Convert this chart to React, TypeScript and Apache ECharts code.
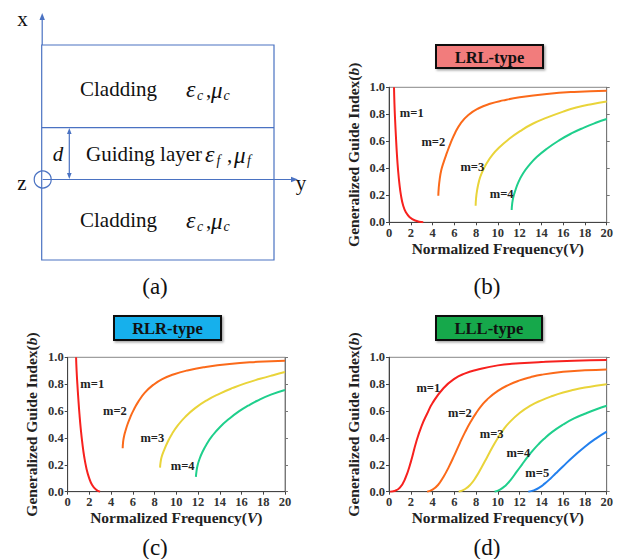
import React, { useEffect, useRef } from "react";
import * as echarts from "echarts";

const SERIF = "'Liberation Serif', 'Times New Roman', serif";

// ---- Tick labels ----
const xTicks = [0, 2, 4, 6, 8, 10, 12, 14, 16, 18, 20];
const yTicks = ["0.0", "0.2", "0.4", "0.6", "0.8", "1.0"];

// ---- Mode names / colors ----
const modeNames = ["m=1", "m=2", "m=3", "m=4", "m=5"];
const modeColors = ["#f7211e", "#fb6a1a", "#e9d43a", "#1fcf8c", "#2380ee"];

// ---- (b) LRL-type ----
const lrlV1 = [0.46, 0.5, 0.56, 0.64, 0.73, 0.83, 0.95, 1.1, 1.3, 1.55, 1.9, 2.4, 3.15];
const lrlB1 = [1.0, 0.88, 0.76, 0.63, 0.5, 0.39, 0.29, 0.2, 0.125, 0.075, 0.038, 0.013, 0];
const lrlV2 = [4.53, 4.57, 4.65, 4.8, 5.0, 5.3, 5.65, 6.06, 6.6, 7.29, 8.2, 9.28, 10.5, 12, 14.5, 17, 20];
const lrlB2 = [0.197, 0.255, 0.315, 0.385, 0.44, 0.51, 0.585, 0.66, 0.735, 0.795, 0.843, 0.878, 0.903, 0.926, 0.951, 0.966, 0.975];
const lrlV3 = [7.96, 8.0, 8.1, 8.27, 8.5, 8.97, 9.5, 10.2, 11, 12.04, 13.2, 14.5, 16, 17.2, 18.6, 20];
const lrlB3 = [0.123, 0.18, 0.24, 0.305, 0.36, 0.437, 0.5, 0.56, 0.615, 0.675, 0.73, 0.775, 0.82, 0.85, 0.875, 0.894];
const lrlV4 = [11.27, 11.32, 11.42, 11.58, 11.9, 12.34, 12.9, 13.57, 14.5, 15.7, 16.8, 17.86, 19, 20];
const lrlB4 = [0.091, 0.14, 0.185, 0.23, 0.3, 0.365, 0.425, 0.483, 0.545, 0.61, 0.66, 0.7, 0.737, 0.765];
const lrlLabelPos = [[2.09, 0.807], [4.07, 0.597], [7.65, 0.412], [10.35, 0.21]];

// ---- (c) RLR-type ----
const rlrV1 = [0.77, 0.82, 0.89, 0.98, 1.08, 1.2, 1.35, 1.52, 1.72, 1.96, 2.25, 2.6, 2.98];
const rlrB1 = [1.0, 0.9, 0.8, 0.69, 0.58, 0.47, 0.36, 0.26, 0.175, 0.105, 0.05, 0.016, 0];
const rlrV2 = [5.06, 5.1, 5.18, 5.3, 5.5, 5.74, 6.05, 6.5, 7.1, 7.88, 8.7, 9.72, 11, 12.5, 14.9, 17.5, 20];
const rlrB2 = [0.323, 0.37, 0.41, 0.448, 0.5, 0.55, 0.605, 0.67, 0.737, 0.795, 0.838, 0.872, 0.902, 0.926, 0.951, 0.966, 0.975];
const rlrV3 = [8.5, 8.55, 8.65, 8.9, 9.2, 9.6, 10.15, 10.8, 11.7, 12.8, 14, 15.2, 16.4, 17.7, 18.9, 20];
const rlrB3 = [0.179, 0.22, 0.26, 0.315, 0.37, 0.43, 0.495, 0.555, 0.62, 0.68, 0.73, 0.772, 0.808, 0.84, 0.867, 0.89];
const rlrV4 = [11.8, 11.85, 11.95, 12.1, 12.4, 12.8, 13.3, 14, 14.9, 15.86, 16.6, 17.4, 18.7, 20];
const rlrB4 = [0.11, 0.15, 0.195, 0.236, 0.295, 0.355, 0.415, 0.48, 0.545, 0.603, 0.64, 0.675, 0.722, 0.757];
const rlrLabelPos = [[2.26, 0.8], [4.35, 0.6], [7.79, 0.397], [10.58, 0.193]];

// ---- (d) LLL-type ----
const lllV1 = [0.1, 0.5, 1, 1.5, 2, 2.5, 3, 3.5, 4, 5, 6, 7, 8, 10, 12, 14, 17, 20];
const lllB1 = [0, 0.005, 0.03, 0.1, 0.22, 0.37, 0.49, 0.58, 0.66, 0.77, 0.84, 0.88, 0.905, 0.94, 0.955, 0.965, 0.975, 0.98];
const lllV2 = [3.5, 4, 4.5, 5, 5.5, 6, 6.5, 7, 7.5, 8, 8.5, 9, 10, 11, 12, 13, 14, 16, 18, 20];
const lllB2 = [0, 0.015, 0.05, 0.11, 0.185, 0.27, 0.36, 0.445, 0.52, 0.585, 0.64, 0.685, 0.75, 0.795, 0.828, 0.852, 0.87, 0.892, 0.903, 0.91];
const lllV3 = [6.4, 7, 7.5, 8, 8.5, 9, 9.5, 10, 10.5, 11, 12, 13, 14, 15, 16, 17, 18, 19, 20];
const lllB3 = [0, 0.02, 0.055, 0.11, 0.18, 0.255, 0.33, 0.4, 0.46, 0.51, 0.585, 0.64, 0.68, 0.712, 0.738, 0.758, 0.775, 0.789, 0.8];
const lllV4 = [9.7, 10.2, 10.7, 11.2, 11.7, 12.2, 12.7, 13.2, 13.7, 14.2, 15, 16, 17, 18, 19, 20];
const lllB4 = [0, 0.015, 0.045, 0.09, 0.145, 0.2, 0.255, 0.305, 0.35, 0.39, 0.445, 0.5, 0.545, 0.58, 0.612, 0.64];
const lllV5 = [12.8, 13.3, 13.8, 14.3, 14.8, 15.3, 16, 17, 18, 19, 20];
const lllB5 = [0, 0.01, 0.03, 0.06, 0.095, 0.135, 0.19, 0.265, 0.335, 0.395, 0.447];
const lllLabelPos = [[3.61, 0.774], [6.52, 0.588], [9.43, 0.427], [11.88, 0.286], [13.62, 0.137]];

const panels = [
  {
    title: "LRL-type",
    fill: "#f27b7b",
    curves: [[lrlV1, lrlB1], [lrlV2, lrlB2], [lrlV3, lrlB3], [lrlV4, lrlB4]],
    labels: lrlLabelPos,
    grid: { left: 389, top: 87.3, width: 217.7, height: 135 },
    box: { x: 436, y: 45, w: 107, h: 23 },
    tag: "(b)",
    tagPos: [487, 286],
  },
  {
    title: "RLR-type",
    fill: "#17b0ec",
    curves: [[rlrV1, rlrB1], [rlrV2, rlrB2], [rlrV3, rlrB3], [rlrV4, rlrB4]],
    labels: rlrLabelPos,
    grid: { left: 67.7, top: 357.3, width: 217.3, height: 134.4 },
    box: { x: 114, y: 316, w: 107, h: 24 },
    tag: "(c)",
    tagPos: [155, 547],
  },
  {
    title: "LLL-type",
    fill: "#13a84c",
    curves: [[lllV1, lllB1], [lllV2, lllB2], [lllV3, lllB3], [lllV4, lllB4], [lllV5, lllB5]],
    labels: lllLabelPos,
    grid: { left: 389, top: 357.3, width: 217.7, height: 134.4 },
    box: { x: 436, y: 316, w: 106, h: 24 },
    tag: "(d)",
    tagPos: [487, 547],
  },
];

const zip = (xs: number[], ys: number[]) => xs.map((x, i) => [x, ys[i]]);

function txt(x: number, y: number, text: string, opts: any = {}) {
  return {
    type: "text",
    z: 10,
    style: {
      x,
      y,
      text,
      fill: opts.fill || "#111",
      fontSize: opts.size || 21,
      fontFamily: SERIF,
      fontStyle: opts.italic ? "italic" : "normal",
      fontWeight: opts.bold ? "bold" : "normal",
      align: opts.align || "left",
      textAlign: opts.align || "left",
      verticalAlign: "middle",
      textVerticalAlign: "middle",
    },
  };
}

function buildOption() {
  const BLUE = "#4a72c2";
  const line = (x1: number, y1: number, x2: number, y2: number) => ({
    type: "line",
    shape: { x1, y1, x2, y2 },
    style: { stroke: BLUE, lineWidth: 1.2 },
  });
  const poly = (pts: number[][]) => ({
    type: "polygon",
    shape: { points: pts },
    style: { fill: BLUE },
  });

  // eps / mu with subscripts; offsets: [sub1, comma, mu, sub2]
  const epsMu = (x0: number, y: number, sub: string, gaps: number[]) => [
    txt(x0, y, "ε", { italic: true, size: 24 }),
    txt(x0 + gaps[0], y + 6, sub, { italic: true, size: 14 }),
    txt(x0 + gaps[1], y + 1, ",", { size: 21 }),
    txt(x0 + gaps[2], y + 1, "μ", { italic: true, size: 23 }),
    txt(x0 + gaps[3], y + 6, sub, { italic: true, size: 14 }),
  ];

  const graphicA: any[] = [
    {
      type: "rect",
      shape: { x: 41.7, y: 45, width: 232.3, height: 215 },
      style: { fill: "none", stroke: BLUE, lineWidth: 1.2 },
    },
    line(41.7, 127.7, 274, 127.7),
    line(42.7, 179.5, 292, 179.5),
    poly([[298, 179.5], [291, 176.8], [291, 182.2]]),
    line(42.2, 45, 42.2, 19),
    poly([[42.2, 13], [39.5, 20], [44.9, 20]]),
    {
      type: "circle",
      shape: { cx: 42.7, cy: 179.5, r: 8.5 },
      style: { fill: "none", stroke: BLUE, lineWidth: 1.2 },
    },
    line(69.3, 132, 69.3, 175),
    poly([[69.3, 128], [67, 134], [71.6, 134]]),
    poly([[69.3, 179], [67, 173], [71.6, 173]]),
    txt(22.5, 19, "x", { align: "center" }),
    txt(22, 183, "z", { align: "center" }),
    txt(301, 183, "y", { align: "center" }),
    txt(58, 154, "d", { italic: true, align: "center" }),
    txt(80, 89, "Cladding"),
    ...epsMu(186, 89, "c", [11, 20, 25, 37.5]),
    txt(86, 154, "Guiding layer"),
    ...epsMu(205, 154, "f", [11.5, 22, 29, 42]),
    txt(80, 220, "Cladding"),
    ...epsMu(186, 220, "c", [11, 20, 25, 37.5]),
    txt(155, 286, "(a)", { align: "center", size: 23 }),
  ];

  const graphicTitles: any[] = [];
  panels.forEach((p) => {
    graphicTitles.push({
      type: "rect",
      shape: { x: p.box.x, y: p.box.y, width: p.box.w, height: p.box.h },
      style: {
        fill: p.fill,
        stroke: "#111",
        lineWidth: 2,
        shadowBlur: 2,
        shadowOffsetX: 1.5,
        shadowOffsetY: 1.5,
        shadowColor: "rgba(0,0,0,0.35)",
      },
    });
    graphicTitles.push(
      txt(p.box.x + p.box.w / 2, p.box.y + p.box.h / 2 + 0.5, p.title, { bold: true, size: 16.5, align: "center" })
    );
    graphicTitles.push(txt(p.tagPos[0], p.tagPos[1], p.tag, { align: "center", size: 23 }));
  });

  const grids = panels.map((p) => ({ ...p.grid, show: true, borderColor: "#888", borderWidth: 1 }));

  const nameRich = {
    a: { fontFamily: SERIF, fontWeight: "bold", fontSize: 15.5, color: "#222" },
    i: { fontFamily: SERIF, fontWeight: "bold", fontStyle: "italic", fontSize: 15.5, color: "#222" },
  };

  const xAxes = panels.map((_, i) => ({
    gridIndex: i,
    type: "value",
    min: 0,
    max: 20,
    interval: 2,
    name: "{a|Normalized Frequency(}{i|V}{a|)}",
    nameLocation: "middle",
    nameGap: 18,
    nameTextStyle: { rich: nameRich },
    axisLine: { show: true, onZero: false, lineStyle: { color: "#444", width: 1 } },
    axisTick: { show: true, inside: false, length: 3, lineStyle: { color: "#444" } },
    axisLabel: {
      margin: 4,
      fontFamily: SERIF,
      fontWeight: "bold",
      fontSize: 12.5,
      color: "#333",
      formatter: (v: number) => (xTicks.includes(v) ? String(v) : ""),
    },
    splitLine: { show: false },
  }));

  const yLeft = panels.map((_, i) => ({
    gridIndex: i,
    type: "value",
    min: 0,
    max: 1,
    interval: 0.2,
    position: "left",
    name: "{a|Generalized Guide Index(}{i|b}{a|)}",
    nameLocation: "middle",
    nameGap: 28,
    nameTextStyle: { rich: nameRich },
    axisLine: { show: true, onZero: false, lineStyle: { color: "#444", width: 1 } },
    axisTick: { show: true, inside: false, length: 3, lineStyle: { color: "#444" } },
    axisLabel: {
      margin: 4,
      fontFamily: SERIF,
      fontWeight: "bold",
      fontSize: 12.5,
      color: "#333",
      formatter: (v: number) => yTicks[Math.round(v * 5)] ?? "",
    },
    splitLine: { show: false },
  }));
  const yRight = panels.map((_, i) => ({
    gridIndex: i,
    type: "value",
    min: 0,
    max: 1,
    interval: 0.2,
    position: "right",
    axisLine: { show: true, onZero: false, lineStyle: { color: "#777", width: 1 } },
    axisTick: { show: true, inside: false, length: 3, lineStyle: { color: "#777" } },
    axisLabel: { show: false },
    splitLine: { show: false },
  }));

  const series: any[] = [];
  panels.forEach((p, pi) => {
    p.curves.forEach(([vs, bs], mi) => {
      const lp = p.labels[mi];
      series.push({
        type: "line",
        name: `${p.title} ${modeNames[mi]}`,
        xAxisIndex: pi,
        yAxisIndex: pi,
        data: zip(vs, bs),
        showSymbol: false,
        symbol: "none",
        smooth: 0.5,
        clip: true,
        lineStyle: { color: modeColors[mi], width: 2 },
        markPoint: {
          symbol: "circle",
          symbolSize: 0,
          silent: true,
          data: [{ coord: lp, value: modeNames[mi] }],
          label: {
            show: true,
            position: "inside",
            formatter: modeNames[mi],
            fontFamily: SERIF,
            fontWeight: "bold",
            fontSize: 12.5,
            color: "#222",
          },
        },
      });
    });
  });

  return {
    animation: false,
    grid: grids,
    xAxis: xAxes,
    yAxis: [...yLeft, ...yRight],
    series,
    graphic: [...graphicA, ...graphicTitles],
  };
}

export default function App() {
  const ref = useRef<HTMLDivElement>(null);
  useEffect(() => {
    if (!ref.current) return;
    const chart = echarts.init(ref.current, undefined, { renderer: "svg" });
    chart.setOption(buildOption() as any);
    return () => chart.dispose();
  }, []);
  return (
    <div
      ref={ref}
      style={{ position: "absolute", left: 0, top: 0, width: 622, height: 559, background: "#fff" }}
    />
  );
}
